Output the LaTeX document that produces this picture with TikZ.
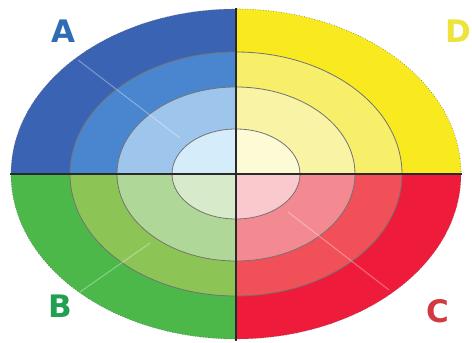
\documentclass[tikz,border=0pt]{standalone}
\usepackage{fontspec}
\setsansfont{DejaVu Sans}
\usetikzlibrary{calc}
\definecolor{blueA}{HTML}{3B63B3}
\definecolor{blueB}{HTML}{4A86CF}
\definecolor{blueC}{HTML}{9EC6EC}
\definecolor{blueD}{HTML}{D5ECFA}
\definecolor{yellowA}{HTML}{F8EA1F}
\definecolor{yellowB}{HTML}{F7EE6A}
\definecolor{yellowC}{HTML}{F9F3A6}
\definecolor{yellowD}{HTML}{FDFBD6}
\definecolor{greenA}{HTML}{4CB84A}
\definecolor{greenB}{HTML}{8CC555}
\definecolor{greenC}{HTML}{AFD898}
\definecolor{greenD}{HTML}{D7EBCB}
\definecolor{redA}{HTML}{EE1B3B}
\definecolor{redB}{HTML}{F15058}
\definecolor{redC}{HTML}{F48A91}
\definecolor{redD}{HTML}{FAC9CE}
\definecolor{axisline}{HTML}{2A2A2A}
\definecolor{labelA}{HTML}{2E6DB4}
\definecolor{labelB}{HTML}{22A052}
\definecolor{labelC}{HTML}{D03A40}
\definecolor{labelD}{HTML}{EDE33A}

\begin{document}
\begin{tikzpicture}[
  x=1pt, y=-1pt,
  ringline/.style={draw=black!55, line width=0.8pt},
  rimline/.style={draw=black!60, line width=0.6pt, dotted},
  axis/.style={draw=axisline, line width=1.8pt},
  glare/.style={draw=white, opacity=0.35, line width=1pt},
  letter/.style={font=\fontsize{31}{36}\selectfont\sffamily\bfseries, inner sep=0pt},
]
\useasboundingbox (0,0) rectangle (472,343);

\coordinate (ctr) at (236,174);

% Quadrants with four rings each
\foreach \qx/\qy/\col in {0/0/blue, 472/0/yellow, 0/343/green, 472/343/red}{
  \begin{scope}
    \clip (ctr) rectangle (\qx,\qy);
    \fill[\col A] (ctr) ellipse [x radius=225, y radius=165];
    \fill[\col B, ringline] (ctr) ellipse [x radius=166, y radius=122];
    \fill[\col C, ringline] (ctr) ellipse [x radius=119, y radius=87];
    \fill[\col D, ringline] (ctr) ellipse [x radius=64, y radius=45];
  \end{scope}
}

% Outer rim
\draw[rimline] (ctr) ellipse [x radius=225, y radius=165];

% Faint glare lines
\draw[glare] (78,60) -- (180,138);
\draw[glare] (80,292) -- (150,243);
\draw[glare] (288,212) -- (389,290);

% Axes
\draw[axis] (10,174) -- (462,174);
\draw[axis] (236,8) -- (236,341);

% Quadrant labels
\node[letter, text=labelA] (qa) at (63,31) {A};
\node[letter, text=labelD, anchor=east] (qd) at (471,31) {D};
\node[letter, text=labelB] (qb) at (60,306) {B};
\node[letter, text=labelC] (qc) at (438,311) {C};

\end{tikzpicture}
\end{document}
